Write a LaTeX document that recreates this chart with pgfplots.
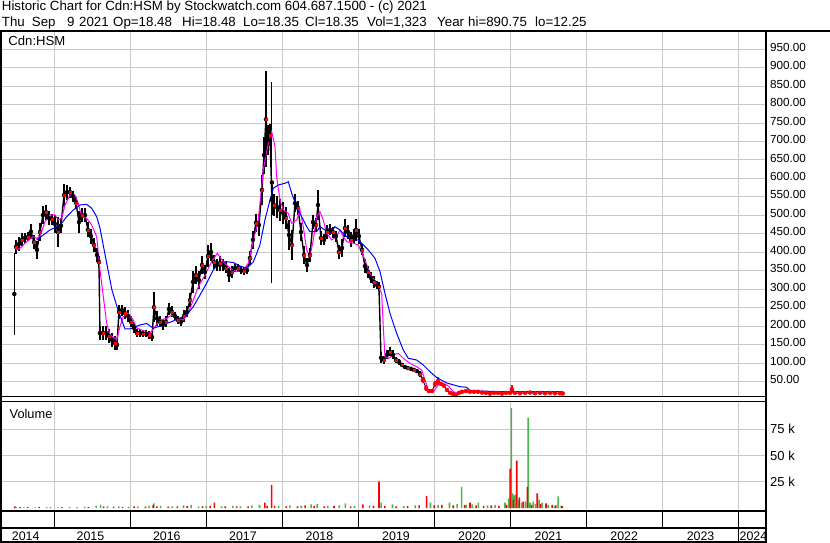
\documentclass[border=0pt]{standalone}
\usepackage{fontspec}
\setmainfont{Liberation Sans}
\usepackage{pgfplots}
\pgfplotsset{compat=1.18}
\usepackage{pgfplotstable}
\definecolor{gridc}{RGB}{200,200,200}
\definecolor{volgreen}{RGB}{76,180,76}
\definecolor{mag}{RGB}{255,0,255}
\definecolor{mablue}{RGB}{0,0,255}

% price bars: t = date (decimal year), p = mid price, e = half of high-low range
\pgfplotstableread{
t p e
2014.496 415 18
2014.536 423 18
2014.575 434 18
2014.614 439 14
2014.654 442 12
2014.693 456 20
2014.733 428 20
2014.772 407 25
2014.812 455 25
2014.851 501 25
2014.891 509 20
2014.930 493 18
2014.970 490 15
2015.009 477 25
2015.049 455 40
2015.088 472 20
2015.128 555 30
2015.167 563 20
2015.207 563 15
2015.246 552 15
2015.286 534 15
2015.325 482 30
2015.364 501 20
2015.404 501 20
2015.443 461 20
2015.483 444 20
2015.522 420 20
2015.562 393 20
2015.588 374 15
2015.601 182 20
2015.641 182 20
2015.680 182 20
2015.720 174 20
2015.759 163 20
2015.799 155 18
2015.825 150 15
2015.851 239 20
2015.891 244 15
2015.930 236 15
2015.970 228 15
2016.009 212 15
2016.049 196 15
2016.088 182 10
2016.128 182 10
2016.167 180 10
2016.207 180 10
2016.246 177 10
2016.286 171 10
2016.312 252 40
2016.351 222 20
2016.391 212 15
2016.430 204 15
2016.470 212 15
2016.509 247 15
2016.549 239 15
2016.588 228 12
2016.628 217 12
2016.667 212 10
2016.707 228 15
2016.746 239 15
2016.786 271 20
2016.825 320 30
2016.865 339 25
2016.904 325 25
2016.944 366 25
2016.983 347 20
2017.022 390 30
2017.062 401 25
2017.101 374 20
2017.141 366 15
2017.180 371 20
2017.220 366 15
2017.259 358 15
2017.299 339 20
2017.338 347 15
2017.378 358 12
2017.417 358 12
2017.457 352 10
2017.496 350 10
2017.536 352 10
2017.575 385 20
2017.614 434 25
2017.654 480 25
2017.693 474 30
2017.733 569 40
2017.759 663 50
2017.785 760 130
2017.812 704 40
2017.838 717 30
2017.864 542 40
2017.891 528 30
2017.930 523 30
2017.970 514 30
2018.009 507 30
2018.049 493 30
2018.088 447 40
2018.128 420 40
2018.167 533 25
2018.207 520 20
2018.246 455 25
2018.286 393 25
2018.325 366 20
2018.365 393 20
2018.404 482 20
2018.443 474 20
2018.470 528 40
2018.509 439 20
2018.549 434 15
2018.588 455 20
2018.628 461 15
2018.667 455 15
2018.707 444 15
2018.746 401 20
2018.786 412 25
2018.825 466 25
2018.865 455 20
2018.904 434 20
2018.944 444 20
2018.970 461 30
2019.009 444 20
2019.049 407 15
2019.088 363 20
2019.128 347 15
2019.167 331 15
2019.207 320 15
2019.246 312 12
2019.272 307 12
2019.299 115 15
2019.338 109 12
2019.378 123 12
2019.417 131 12
2019.457 123 12
2019.496 109 8
2019.536 104 8
2019.575 96 6
2019.614 90 6
2019.654 87 6
2019.693 85 6
2019.733 82 6
2019.772 79 6
2019.812 71 8
2019.851 55 8
}\pricetab

\pgfplotstableread{
t p e
2019.851 55 8
2019.891 33 8
2019.930 25 6
2019.970 25 6
2020.009 44 8
2020.049 52 10
2020.088 44 6
2020.128 39 6
2020.167 28 5
2020.207 20 4
2020.246 17 3
2020.286 14 3
2020.325 20 4
2020.365 23 4
2020.417 25 4
2020.470 23 4
2020.523 23 3
2020.575 23 3
2020.628 21 3
2020.680 20 3
2020.733 18 3
2020.786 20 3
2020.838 20 3
2020.891 18 3
2020.944 20 3
2020.996 20 3
2021.022 30 11
2021.062 20 3
2021.128 19 3
2021.194 20 3
2021.259 21 4
2021.325 19 3
2021.391 20 3
2021.457 19 3
2021.523 20 3
2021.588 19 3
2021.654 19 3
2021.690 18.4 1
}\pricelate

% single long bars
\pgfplotstableread{
t p e
2014.474 287.5 110.5
2017.864 589 273
}\pricespike

\pgfplotstableread{
t v
2014.496 406.6
2014.549 411.2
2014.637 429.0
2014.724 442.5
2014.768 438.2
2014.812 442.5
2014.878 483.1
2014.943 501.2
2015.009 501.2
2015.053 487.7
2015.097 492.3
2015.141 528.3
2015.207 555.3
2015.272 555.3
2015.316 532.9
2015.360 496.6
2015.426 492.3
2015.492 474.2
2015.558 442.5
2015.601 352.5
2015.645 280.2
2015.689 208.3
2015.733 176.6
2015.799 167.7
2015.821 163.1
2015.864 199.1
2015.908 226.1
2015.974 235.3
2016.039 217.2
2016.084 195.6
2016.259 181.2
2016.325 199.1
2016.391 217.2
2016.479 221.8
2016.545 230.7
2016.610 221.8
2016.697 217.2
2016.763 235.3
2016.829 271.3
2016.895 307.3
2016.983 338.9
2017.071 374.9
2017.145 397.6
2017.224 374.9
2017.312 357.1
2017.400 347.9
2017.487 352.5
2017.553 370.6
2017.597 412.0
2017.684 487.7
2017.750 623.0
2017.816 695.2
2017.861 726.6
2017.904 686.0
2017.926 604.8
2017.970 541.8
2018.013 514.8
2018.079 505.8
2018.124 478.8
2018.189 487.7
2018.233 514.8
2018.276 469.6
2018.321 406.6
2018.364 388.4
2018.408 433.6
2018.452 496.6
2018.496 510.2
2018.539 487.7
2018.584 451.7
2018.650 433.6
2018.716 442.5
2018.759 460.7
2018.803 442.5
2018.848 429.0
2018.934 424.7
2019.000 420.1
2019.088 379.5
2019.154 343.5
2019.242 316.5
2019.308 289.4
2019.329 199.1
2019.351 117.9
2019.395 113.6
2019.461 122.5
2019.526 127.1
2019.592 113.6
2019.680 100.1
2019.768 90.9
2019.834 82.0
2019.878 54.9
2019.921 27.9
2019.987 23.3
2020.053 41.4
2020.119 46.0
2020.184 38.7
2020.250 23.3
2020.316 18.9
2020.382 23.3
2020.513 22.5
2020.690 19.7
2021.128 19.7
2021.690 19.7
}\mashort

\pgfplotstableread{
t v
2014.768 433.6
2014.855 447.1
2014.943 460.7
2015.032 469.6
2015.097 478.8
2015.163 496.6
2015.250 514.8
2015.338 528.3
2015.426 530.2
2015.492 519.4
2015.558 496.6
2015.601 466.1
2015.689 371.4
2015.759 298.4
2015.838 244.3
2015.930 192.9
2015.996 192.9
2016.128 203.7
2016.216 207.7
2016.303 194.8
2016.391 201.0
2016.566 214.5
2016.742 230.7
2016.829 253.2
2016.917 284.8
2017.005 316.5
2017.092 352.5
2017.180 374.1
2017.268 374.9
2017.355 372.7
2017.443 363.3
2017.531 357.1
2017.619 374.1
2017.706 420.1
2017.772 487.7
2017.838 541.8
2017.882 573.5
2017.948 582.4
2018.036 587.0
2018.079 591.3
2018.124 559.9
2018.189 523.7
2018.255 496.6
2018.321 469.6
2018.364 456.1
2018.452 456.1
2018.496 469.6
2018.562 460.7
2018.628 451.7
2018.694 469.6
2018.759 460.7
2018.848 442.5
2018.934 433.6
2018.996 433.6
2019.045 424.7
2019.132 406.6
2019.220 384.1
2019.286 347.9
2019.351 289.4
2019.417 235.3
2019.505 181.2
2019.592 136.1
2019.658 113.6
2019.768 109.0
2019.855 95.5
2019.943 77.4
2020.031 61.7
2020.163 46.8
2020.338 36.8
2020.426 35.2
2020.470 26.0
2020.864 23.3
2021.690 23.3
}\malong

\pgfplotstableread{
t v
2014.50 800
2014.60 600
2014.75 700
2014.90 900
2015.05 600
2015.20 800
2015.40 1200
2015.55 2000
2015.61 3000
2015.70 1500
2015.85 1500
2015.98 1000
2016.10 1500
2016.25 2000
2016.31 4500
2016.40 2000
2016.55 1500
2016.70 2500
2016.80 3000
2016.90 1500
2017.00 2000
2017.20 1500
2017.35 2000
2017.45 1500
2017.60 2500
2017.70 3000
2017.95 2000
2018.10 2500
2018.25 2000
2018.38 3500
2018.46 4000
2018.60 2000
2018.75 2500
2018.83 4500
2018.95 2000
2019.15 2500
2019.30 5000
2019.45 3500
2019.60 2000
2019.75 2500
2019.95 5000
2020.05 3000
2020.20 5000
2020.30 4000
2020.36 20000
2020.42 3000
2020.50 3500
2020.58 5000
2020.70 2500
2020.80 3000
2020.93 5000
2020.98 9000
2021.015 95000
2021.03 14000
2021.05 12000
2021.07 13000
2021.11 8000
2021.15 5000
2021.20 6000
2021.236 86000
2021.26 5000
2021.30 6000
2021.33 4000
2021.38 8000
2021.42 5000
2021.50 3000
2021.58 2000
2021.63 11000
2021.67 2000
}\volgreen

\pgfplotstableread{
t v
2014.48 1500
2014.55 900
2014.65 800
2014.80 1000
2014.95 700
2015.10 900
2015.30 700
2015.45 900
2015.65 1500
2015.78 1200
2015.90 1000
2016.05 1500
2016.20 1200
2016.30 3000
2016.35 1500
2016.50 1200
2016.62 1500
2016.75 1800
2016.95 1500
2017.05 2000
2017.107 5000
2017.25 1500
2017.40 1500
2017.55 1500
2017.77 5000
2017.80 2000
2017.86 22000
2017.90 2000
2018.05 1500
2018.20 1500
2018.30 2500
2018.42 2000
2018.55 1500
2018.68 1800
2018.90 1500
2019.06 3500
2019.20 2000
2019.272 25000
2019.35 2000
2019.50 1500
2019.65 1800
2019.80 2500
2019.90 11500
2020.00 2500
2020.10 3000
2020.25 2500
2020.40 3000
2020.47 5000
2020.55 2500
2020.65 2000
2020.75 2500
2020.85 2000
2020.95 3000
2021.00 37500
2021.04 8000
2021.085 45000
2021.12 10000
2021.17 6000
2021.225 20000
2021.28 3000
2021.355 14000
2021.40 4000
2021.47 4500
2021.55 3000
2021.60 2500
2021.68 2000
}\volred

\newcommand\hf{\fontsize{13.3}{15}\selectfont}

\begin{document}
\begin{tikzpicture}[x=1pt,y=1pt]
\path[use as bounding box] (0,0) rectangle (830,543);
\fill[white] (0,0) rectangle (830,543);

% header
\node[anchor=base west,inner sep=0pt,font=\hf] at (1.7,532) {Historic Chart for Cdn:HSM by Stockwatch.com 604.687.1500 - (c) 2021};
\node[anchor=base west,inner sep=0pt,font=\hf] at (1.7,516.5) {Thu};
\node[anchor=base west,inner sep=0pt,font=\hf] at (31.7,516.5) {Sep};
\node[anchor=base west,inner sep=0pt,font=\hf] at (67,516.5) {9};
\node[anchor=base west,inner sep=0pt,font=\hf] at (79,516.5) {2021};
\node[anchor=base west,inner sep=0pt,font=\hf] at (113,516.5) {Op=18.48};
\node[anchor=base west,inner sep=0pt,font=\hf] at (182,516.5) {Hi=18.48};
\node[anchor=base west,inner sep=0pt,font=\hf] at (243,516.5) {Lo=18.35};
\node[anchor=base west,inner sep=0pt,font=\hf] at (305,516.5) {Cl=18.35};
\node[anchor=base west,inner sep=0pt,font=\hf] at (367,516.5) {Vol=1,323};
\node[anchor=base west,inner sep=0pt,font=\hf] at (437,516.5) {Year};
\node[anchor=base west,inner sep=0pt,font=\hf] at (468,516.5) {hi=890.75};
\node[anchor=base west,inner sep=0pt,font=\hf] at (535,516.5) {lo=12.25};

% price panel
\begin{axis}[
  at={(2pt,146pt)}, anchor=south west,
  scale only axis, width=764pt, height=365pt,
  xmin=2014.312, xmax=2024.365,
  ymin=8.9, ymax=996.2,
  axis line style={draw=none},
  xtick={2015,2016,...,2024}, xticklabels={},
  ytick={50,100,...,950},
  yticklabel pos=right,
  major tick length=0pt,
  grid=major,
  major grid style={draw=gridc, line width=1pt},
  yticklabel style={anchor=west, inner sep=0pt, xshift=4pt, yshift=2pt,
    font=\fontsize{11.7}{12}\selectfont,
    /pgf/number format/fixed, /pgf/number format/fixed zerofill,
    /pgf/number format/precision=2, /pgf/number format/assume math mode=true},
]
\addplot[only marks, mark=none, black, error bars/.cd, y dir=both, y explicit,
  error mark=none, error bar style={line width=2.8pt}]
  table[x=t, y=p, y error=e] {\pricetab};
\addplot[black, line width=1.4pt] table[x=t, y=p] {\pricetab};
\addplot[only marks, mark=none, black, error bars/.cd, y dir=both, y explicit,
  error mark=none, error bar style={line width=1pt}]
  table[x=t, y=p, y error=e] {\pricespike};
\addplot[only marks, mark=none, red, error bars/.cd, y dir=both, y explicit,
  error mark=none, error bar style={line width=2.6pt}]
  table[x=t, y=p, y error=e] {\pricelate};
\addplot[black, line width=0.8pt] table[x=t, y=p] {\pricelate};
\addplot[only marks, mark=square*, mark size=0.9pt, red, each nth point=2]
  table[x=t, y=p] {\pricetab};
\addplot[mag, line width=1pt] table[x=t, y=v] {\mashort};
\addplot[mablue, line width=1pt] table[x=t, y=v] {\malong};
\end{axis}

% volume panel
\begin{axis}[
  at={(2pt,33pt)}, anchor=south west,
  scale only axis, width=764pt, height=108pt,
  xmin=2014.312, xmax=2024.365,
  ymin=-1900, ymax=100900,
  axis line style={draw=none},
  xtick={2015,2016,...,2024}, xticklabels={},
  ytick={25000,50000,75000}, yticklabels={25 k,50 k,75 k},
  scaled y ticks=false,
  yticklabel pos=right,
  major tick length=0pt,
  grid=major,
  major grid style={draw=gridc, line width=1pt},
  yticklabel style={anchor=west, inner sep=0pt, xshift=4pt, font=\fontsize{13}{14}\selectfont},
]
\addplot[ybar, bar width=1.6pt, bar shift=0pt, fill=volgreen, draw=none] table[x=t, y=v] {\volgreen};
\addplot[ybar, bar width=1.6pt, bar shift=0pt, fill=red, draw=none] table[x=t, y=v] {\volred};
\end{axis}

\node[anchor=base west,inner sep=0pt,font=\fontsize{13.1}{14}\selectfont] at (8.3,497.3) {Cdn:HSM};
\node[anchor=base west,inner sep=0pt,font=\fontsize{12.8}{14}\selectfont] at (9.5,124.4) {Volume};

% frames
\draw[black, line width=2pt] (0,512) -- (830,512);
\draw[black, line width=2pt] (766,0) -- (766,513);
\draw[black, line width=1.6pt] (0.8,0) -- (0.8,513);
\draw[black, line width=1.4pt] (0,146.2) -- (766,146.2);
\draw[black, line width=1.4pt] (0,141.5) -- (766,141.5);
\draw[black, line width=2pt] (0,32) -- (766,32);
\draw[black, line width=2pt] (0,15) -- (766,15);
\draw[black, line width=1.5pt] (0,0.75) -- (766,0.75);
\foreach \xx in {54.3,130.3,206.3,282.3,358.3,434.3,510.3,586.3,662.3}
  \draw[black, line width=1pt] (\xx,15) -- (\xx,32);
\draw[black, line width=1pt] (738.3,0) -- (738.3,32);

% year labels
\foreach \xx/\yy in {25.7/2014,90.5/2015,166.8/2016,243/2017,319.5/2018,396/2019,472/2020,548.4/2021,624.2/2022,700.6/2023}
  \node[anchor=base,inner sep=0pt,font=\fontsize{12.4}{13}\selectfont] at (\xx,2.5) {\yy};
\node[anchor=base west,inner sep=0pt,font=\fontsize{12.4}{13}\selectfont] at (739.5,2.5) {2024};
\end{tikzpicture}
\end{document}
